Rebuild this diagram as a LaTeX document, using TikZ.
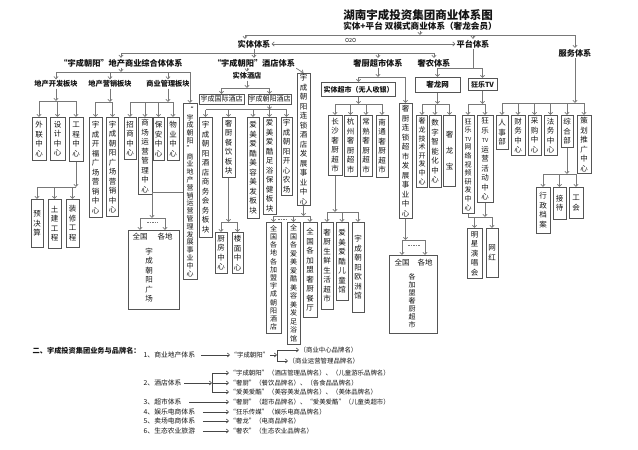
\documentclass[tikz,border=0pt]{standalone}
\usepackage{fontspec}
\setmainfont{Noto Sans CJK SC}
\usetikzlibrary{arrows.meta}
\definecolor{ln}{RGB}{120,120,120}
\definecolor{bx}{RGB}{85,85,85}
\definecolor{tx}{RGB}{20,20,20}
\definecolor{ln2}{RGB}{70,70,70}
\def\vtend{\vtend}
\def\vt#1{\vtA#1\vtend}
\def\vtA#1{#1\vtB}
\def\vtB#1{\ifx\vtend#1\else\\#1\expandafter\vtB\fi}
\tikzset{
 conn/.style={draw=ln, line width=0.7pt},
 arr/.style={conn, -{Straight Barb[length=2.2pt,width=4.2pt]}},
 arrk/.style={draw=ln2, line width=0.6pt, -{Straight Barb[length=2.2pt,width=4pt]}},
 vb/.style={draw=bx, line width=0.7pt, anchor=north, inner xsep=0.3pt, inner ysep=1pt, minimum width=13pt, align=center, font=\fontsize{7.5}{9.5}\selectfont, text=tx},
 hb/.style={draw=bx, line width=0.7pt, anchor=north, inner sep=0.5pt, align=center, font=\fontsize{7}{8}\selectfont, text=tx},
 hd/.style={font=\bfseries\fontsize{8.2}{9}\selectfont, inner sep=1pt, text=tx},
 hs/.style={font=\bfseries\fontsize{7.2}{8}\selectfont, inner sep=1pt, text=tx},
 it/.style={font=\fontsize{6.8}{8}\selectfont, inner sep=0.5pt, anchor=west, text=tx},
 itb/.style={font=\fontsize{6.4}{8}\selectfont, inner sep=0.5pt, anchor=west, text=tx},
 lbl/.style={font=\fontsize{7.5}{9}\selectfont, inner sep=0.5pt, text=tx},
 dots/.style={draw=ln, line width=0.5pt, dash pattern=on 1.5pt off 1pt},
}
\newcommand\bus[3]{%
  \draw[arr] (#1.south) -- (#1.south |- 0,#2);
  \foreach \cc in {#3} {%
    \draw[conn] (#1.south |- 0,#2) -- (\cc.north |- 0,#2);
    \draw[arr] (\cc.north |- 0,#2) -- (\cc.north);
  }%
}
\begin{document}
\begin{tikzpicture}[x=1pt,y=-1pt]
\fill[white] (0,0) rectangle (638,450);
\useasboundingbox (0,0) rectangle (638,450);

% titles
\node[font=\bfseries\fontsize{11.5}{13}\selectfont, inner sep=0pt, text=tx] (title) at (418,15) {湖南宇成投资集团商业体系图};
\node[font=\bfseries\fontsize{8.6}{10}\selectfont, inner sep=0.5pt, text=tx] (sub) at (420,26.5) {实体+平台\ 双模式商业体系（奢龙会员）};

% level 1
\node[hd] (shiti) at (254,44) {实体体系};
\node[hd] (pingtai) at (473,44) {平台体系};
\node[hd] (fuwu) at (575,53) {服务体系};

% level 2
\node[hd] (dichan) at (121,63) {“宇成朝阳”地产商业综合体体系};
\node[hd] (jiudian) at (254,63) {“宇成朝阳”酒店体系};
\node[hd] (shechu) at (378,63) {奢厨超市体系};
\node[hd] (shenong) at (434,63) {奢农体系};

% real estate
\node[hs] (kf) at (56,84) {地产开发板块};
\node[hs] (yx) at (110,84) {地产营销板块};
\node[hs] (gl) at (168,84) {商业管理板块};
\node[vb, font=\fontsize{7}{7.8}\selectfont, minimum width=14pt, minimum height=176pt] (syzx) at (190,103) {\vt{“宇成朝阳”商业地产营销运营管理发展事业中心}};
\node[vb, minimum width=14pt, minimum height=43pt] (wl) at (39,117) {\vt{外联中心}};
\node[vb, minimum width=15pt, minimum height=43pt] (sj) at (57.5,117) {\vt{设计中心}};
\node[vb, minimum width=14pt, minimum height=44pt] (gc) at (76,117) {\vt{工程中心}};
\node[vb, minimum width=12pt, minimum height=48pt] (ys) at (37,199) {\vt{预决算}};
\node[vb, minimum width=13pt, minimum height=49pt] (tj) at (54.5,199) {\vt{土建工程}};
\node[vb, minimum width=13pt, minimum height=48pt] (zx) at (72.5,199) {\vt{装修工程}};
\node[vb, minimum width=13pt, minimum height=100pt] (kfgc) at (95.5,117) {\vt{宇成开福广场营销中心}};
\node[vb, minimum width=12pt, minimum height=99pt] (cygc) at (112.5,117) {\vt{宇成朝阳广场营销中心}};
\node[vb, minimum width=12pt, minimum height=42pt] (zs) at (130,117) {\vt{招商中心}};
\node[vb, minimum width=14pt, minimum height=77pt] (yy) at (145,117) {\vt{商场运营管理中心}};
\node[vb, minimum width=11pt, minimum height=43pt] (ba) at (158.5,117) {\vt{保安中心}};
\node[vb, minimum width=12pt, minimum height=43pt] (wy) at (173,117) {\vt{物业中心}};
\node[draw=bx, line width=0.7pt, anchor=north, inner sep=0pt, minimum width=51pt, minimum height=79pt] (gcbox) at (153.5,230) {};
\node[lbl] (qg1) at (140,237) {全国};
\node[lbl] (gd1) at (165,237) {各地};
\node[lbl, align=center, font=\fontsize{7.5}{9.5}\selectfont] (gcv) at (149,275) {\vt{宇成朝阳广场}};

% hotel
\node[hs] (shijd) at (247,76) {实体酒店};
\node[hb, minimum width=45pt, minimum height=9.5pt] (gjjd) at (221.5,94) {宇成国际酒店};
\node[hb, minimum width=43pt, minimum height=9.5pt] (cyjd) at (269.5,94) {宇成朝阳酒店};
\node[vb, minimum height=131pt] (ljzx) at (303.5,73) {\vt{宇成朝阳连锁酒店发展事业中心}};
\node[vb, minimum height=120pt] (swhw) at (205.5,117) {\vt{宇成朝阳酒店商务会务板块}};
\node[vb, minimum height=60pt] (cycy) at (228.5,117) {\vt{奢厨餐饮板块}};
\node[vb, minimum width=12pt, minimum height=101pt] (mrmf) at (253,117) {\vt{爱美爱酷美容美发板块}};
\node[vb, minimum height=97pt] (zybj) at (269.5,117) {\vt{爱美爱酷足浴保健板块}};
\node[vb, minimum width=11pt, minimum height=78pt] (kxnc) at (286.5,117) {\vt{宇成朝阳开心农场}};
\node[vb, minimum width=12pt, minimum height=41pt] (cf) at (221,232) {\vt{厨房中心}};
\node[vb, minimum width=11pt, minimum height=41pt] (lm) at (237.5,232) {\vt{楼面中心}};
\node[vb, font=\fontsize{7}{8.2}\selectfont, minimum width=15pt, minimum height=111pt] (jm1) at (273.5,222) {\vt{全国各地各加盟宇成朝阳酒店}};
\node[vb, font=\fontsize{7}{8.5}\selectfont, minimum height=122pt] (jm2) at (293.5,222) {\vt{全国各爱美爱酷美容美发足浴馆}};
\node[vb, minimum width=14pt, minimum height=95pt] (jm3) at (310,222) {\vt{全国各加盟奢厨餐厅}};

% supermarket
\node[hb, font=\bfseries\fontsize{7}{8}\selectfont, minimum width=74pt, minimum height=14pt] (stcs) at (358.5,82) {实体超市（无人收银）};
\node[vb, minimum height=115pt] (lscs) at (405.5,103) {\vt{奢厨连锁超市发展事业中心}};
\node[vb, minimum width=14pt, minimum height=60pt] (cs1) at (335,115) {\vt{长沙奢厨超市}};
\node[vb, minimum height=61pt] (cs2) at (350.5,115) {\vt{杭州奢厨超市}};
\node[vb, minimum width=12pt, minimum height=61pt] (cs3) at (366,115) {\vt{常熟奢厨超市}};
\node[vb, minimum width=12pt, minimum height=62pt] (cs4) at (382,115) {\vt{南通奢厨超市}};
\node[vb, minimum width=12pt, minimum height=87pt] (sx) at (327,222) {\vt{奢厨生鲜生活超市}};
\node[vb, minimum width=12pt, minimum height=78pt] (et) at (342,222) {\vt{爱美爱酷儿童馆}};
\node[vb, minimum width=12pt, minimum height=90pt] (oz) at (358,222) {\vt{宇成朝阳欧洲馆}};
\node[draw=bx, line width=0.7pt, anchor=north, inner sep=0pt, minimum width=48pt, minimum height=78pt] (cstbox) at (413,255) {};
\node[lbl] (qg2) at (402,263) {全国};
\node[lbl] (gd2) at (425,263) {各地};
\node[lbl, align=center, font=\fontsize{7}{8}\selectfont] (csv) at (412,301) {\vt{各加盟奢厨超市}};

% platform
\node[hb, font=\bfseries\fontsize{7.5}{8}\selectfont, minimum width=45pt, minimum height=15pt] (slw) at (437.5,77) {奢龙网};
\node[hb, font=\bfseries\fontsize{7}{8}\selectfont, minimum width=29pt, minimum height=12pt] (kltv) at (482.5,78) {狂乐TV};
\node[vb, font=\fontsize{7}{8.6}\selectfont, minimum width=11pt, minimum height=72pt] (js) at (422,115) {\vt{奢龙技术开发中心}};
\node[vb, minimum width=12pt, minimum height=72pt] (sz) at (435,115) {\vt{数字智能化中心}};
\node[vb, font=\fontsize{7.5}{16}\selectfont, minimum width=12pt, minimum height=71pt] (slb) at (449.5,115) {\vt{奢龙宝}};
\node[vb, font=\fontsize{7}{8.6}\selectfont, minimum width=12pt, minimum height=98pt] (wlsp) at (468,115) {\vt{狂乐{{\fontsize{5.5}{8.6}\selectfont TV}}网络视频研发中心}};
\node[vb, minimum width=16pt, minimum height=87pt] (yyhd) at (485,115) {\vt{狂乐{{\fontsize{5.5}{9.5}\selectfont TV}}运营活动中心}};
\node[vb, minimum width=15pt, minimum height=50pt] (mx) at (474.5,228) {\vt{明星演唱会}};
\node[vb, minimum width=12pt, minimum height=49pt] (wh) at (492,228) {\vt{网红}};

% service
\node[vb, minimum width=12pt, minimum height=34pt] (rs) at (502,115) {\vt{人事部}};
\node[vb, minimum width=14pt, minimum height=40pt] (cw) at (518,115) {\vt{财务中心}};
\node[vb, minimum height=40pt] (cg) at (534.5,115) {\vt{采购中心}};
\node[vb, minimum height=40pt] (fw) at (550.5,115) {\vt{法务中心}};
\node[vb, minimum width=12pt, minimum height=32pt] (zh) at (567,115) {\vt{综合部}};
\node[vb, minimum width=14pt, minimum height=58pt] (ch) at (584,115) {\vt{策划推广中心}};
\node[vb, minimum width=14pt, minimum height=46pt] (xz) at (543,187) {\vt{行政档案}};
\node[vb, minimum height=32pt] (jd) at (559.5,187) {\vt{接待}};
\node[vb, minimum width=14pt, minimum height=31pt] (gh) at (576,187) {\vt{工会}};

% ---- connectors, top
\draw[arr] (sub.south) -- (sub.south |- 0,35);
\draw[conn] ([xshift=-9pt]shiti.north |- 0,35) -- (fuwu.north |- 0,35);
\draw[arr] ([xshift=-9pt]shiti.north |- 0,35) -- ([xshift=-9pt]shiti.north);
\draw[arr] (pingtai.north |- 0,35) -- (pingtai.north);
\draw[arr] (fuwu.north |- 0,35) -- (fuwu.north);
\draw[conn, {Straight Barb[length=2.2pt,width=4.2pt]}-{Straight Barb[length=2.2pt,width=4.2pt]}] (shiti.east) -- (pingtai.west) node[pos=0.43, above, font=\fontsize{5.5}{6}\selectfont, inner sep=1pt, text=tx] (o2o) {O2O};
\draw[conn] (shiti.south) -- (shiti.south |- 0,53);
\draw[conn] (dichan.north |- 0,53) -- (shenong.north |- 0,53);
\foreach \n in {dichan,jiudian,shechu,shenong} \draw[arr] (\n.north |- 0,53) -- (\n.north);

% real estate
\bus{dichan}{72}{kf,yx,gl,syzx}
\bus{kf}{101}{wl,sj,gc}
\bus{yx}{102}{kfgc,cygc}
\bus{gl}{102}{zs,yy,ba,wy}
\bus{gc}{187}{ys,tj,zx}
\coordinate (j1) at (152,192);
\draw[conn] (syzx.west |- j1) -- (j1);
\draw[arr] (j1) -- (j1 |- 0,218);
\draw[conn] (qg1 |- 0,218) -- (gd1 |- 0,218);
\draw[arr] (qg1 |- 0,218) -- (qg1 |- gcbox.north);
\draw[arr] (gd1 |- 0,218) -- (gd1 |- gcbox.north);
\draw[dots] (147,222) -- (158,222);

% hotel
\draw[arr] (shijd.north |- jiudian.south) -- (shijd.north);
\draw[arr] (jiudian.south east) -- (ljzx.north);
\bus{shijd}{88}{gjjd,cyjd}
\bus{cyjd}{109.5}{swhw,cycy,mrmf,zybj,kxnc}
\bus{cycy}{222}{cf,lm}
\bus{ljzx}{216}{jm1,jm2,jm3}
\draw[dots] (278,219) -- (288,219);

% supermarket
\bus{shechu}{77}{stcs,lscs}
\bus{stcs}{104}{cs1,cs2,cs3,cs4}
\bus{cs1}{212}{sx,et,oz}
\draw[arr] (lscs.south) -- (lscs.south |- 0,240);
\draw[conn] (qg2 |- 0,240) -- (gd2 |- 0,240);
\draw[arr] (qg2 |- 0,240) -- (qg2 |- cstbox.north);
\draw[arr] (gd2 |- 0,240) -- (gd2 |- cstbox.north);
\draw[dots] (408,245) -- (420,245);

% platform
\draw[conn] (pingtai.south) -- (pingtai.south |- 0,68);
\draw[conn] (slw.north |- 0,68) -- (kltv.north |- 0,68);
\draw[arr] (slw.north |- 0,68) -- (slw.north);
\draw[arr] (kltv.north |- 0,68) -- (kltv.north);
\bus{slw}{104}{js,sz,slb}
\bus{kltv}{104}{wlsp,yyhd}
\draw[conn] (wlsp.south) -- (wlsp.south |- 0,217);
\draw[arr] (yyhd.south) -- (yyhd.south |- 0,217);
\draw[conn] (wlsp.south |- 0,217) -- (wh.north |- 0,217);
\draw[arr] (mx.north |- 0,217) -- (mx.north);
\draw[arr] (wh.north |- 0,217) -- (wh.north);

% service
\bus{fuwu}{103}{rs,cw,cg,fw,zh,ch}
\bus{zh}{174}{xz,jd,gh}

% ---- section 2
\node[font=\bfseries\fontsize{7.2}{8}\selectfont, inner sep=0.5pt, anchor=west, text=tx] (sec2) at (32,351) {二、宇成投资集团业务与品牌名：};
\node[it] (L1) at (143,355) {1、商业地产体系};
\node[itb] (B1) at (230,355) {“宇成朝阳”};
\node[itb] (T1a) at (299,350) {（商业中心品牌名）};
\node[itb] (T1b) at (288,361) {（商业运营管理品牌名）};
\node[it] (L2) at (143,383) {2、酒店体系};
\node[itb] (T2a) at (229,373) {“宇成朝阳”（酒店管理品牌名）、（儿童游乐品牌名）};
\node[itb] (T2b) at (229,383) {“奢厨”（餐饮品牌名）、（各食品品牌名）};
\node[itb] (T2c) at (229,392) {“爱美爱酷”（美容美发品牌名）、（美体品牌名）};
\node[it] (L3) at (143,402) {3、超市体系};
\node[itb] (T3) at (229,402) {“奢厨”（超市品牌名）、“爱美爱酷”（儿童类超市）};
\node[it] (L4) at (143,412) {4、娱乐电商体系};
\node[itb] (T4) at (229,412) {“狂乐传媒”（娱乐电商品牌名）};
\node[it] (L5) at (143,421) {5、卖场电商体系};
\node[itb] (T5) at (229,421) {“奢龙”（电商品牌名）};
\node[it] (L6) at (143,431) {6、生态农业旅游};
\node[itb] (T6) at (229,431) {“奢农”（生态农业品牌名）};

\draw[arrk] ([xshift=5pt]L1.east) -- (B1.west);
\coordinate (j3) at (277,355);
\draw[arrk] (B1.east) -- (j3);
\draw[draw=ln2, line width=0.6pt] (j3 |- T1a.west) -- (j3 |- T1b.west);
\draw[arrk] (j3 |- T1a.west) -- (T1a.west);
\draw[arrk] (j3 |- T1b.west) -- (T1b.west);
\coordinate (j4) at (212,383);
\draw[arrk] ([xshift=2pt]L2.east) -- (j4);
\draw[draw=ln2, line width=1pt] (j4 |- T2a.west) -- (j4 |- T2c.west);
\foreach \n in {T2a,T2b,T2c} \draw[arrk] (j4 |- \n.west) -- (\n.west);
\foreach \n/\m in {L3/T3,L4/T4,L5/T5,L6/T6} \draw[arrk] ([xshift=7pt]\n.east) -- (\m.west);
\end{tikzpicture}
\end{document}
